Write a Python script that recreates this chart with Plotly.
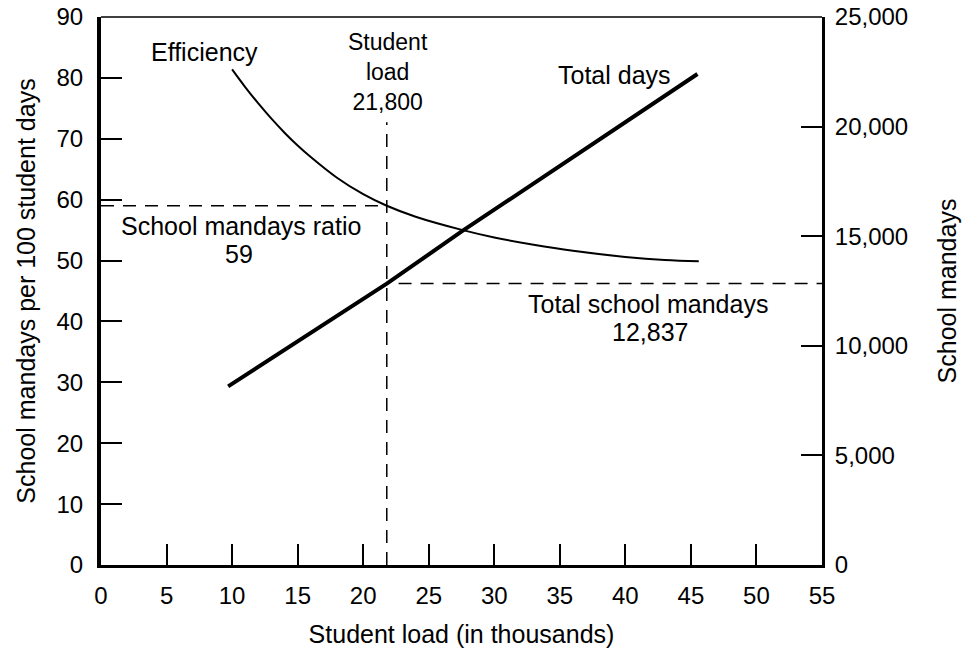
import plotly.graph_objects as go

# ---- data ----
eff_x = [10, 11, 12, 13, 14, 15, 16, 18, 20, 21.8, 24, 27.6, 30, 33, 36, 40, 43, 45.6]
eff_y = [81.4, 78.5, 75.8, 73.3, 71.0, 68.9, 67.0, 63.6, 60.9, 59.0, 57.2, 55.0, 53.8, 52.6, 51.6, 50.6, 50.1, 49.9]

total_x = [9.7, 21.8, 27.6, 45.5]
total_y = [8150, 12837, 15250, 22400]

student_load = 21.8          # thousands
mandays_ratio = 59           # per 100 student days
total_mandays = 12837
load_line_top = 72.7         # top of the vertical dashed guide (left-axis units)
mandays_line_start = 22.7    # start of right dashed guide (thousands)

x_ticks = [0, 5, 10, 15, 20, 25, 30, 35, 40, 45, 50, 55]
y_ticks = [0, 10, 20, 30, 40, 50, 60, 70, 80, 90]
y2_ticks = [0, 5000, 10000, 15000, 20000, 25000]
y2_labels = ["0", "5,000", "10,000", "15,000", "20,000", "25,000"]

FONT = "Liberation Sans, Arial, Helvetica, sans-serif"
FS = 25
TFS = 24
DASH = "13px,9px"

fig = go.Figure()

# dashed guides
fig.add_trace(go.Scatter(x=[0, student_load], y=[mandays_ratio, mandays_ratio], mode="lines",
                         line=dict(color="black", width=1.5, dash=DASH), hoverinfo="skip"))
fig.add_trace(go.Scatter(x=[student_load, student_load], y=[0, load_line_top], mode="lines",
                         line=dict(color="black", width=1.5, dash=DASH), hoverinfo="skip"))
fig.add_trace(go.Scatter(x=[mandays_line_start, 55], y=[total_mandays, total_mandays], mode="lines",
                         yaxis="y2", line=dict(color="black", width=1.5, dash=DASH), hoverinfo="skip"))

# efficiency curve
fig.add_trace(go.Scatter(x=eff_x, y=eff_y, mode="lines", line=dict(color="black", width=2, shape="spline"),
                         name="Efficiency"))
# total days line
fig.add_trace(go.Scatter(x=total_x, y=total_y, mode="lines", yaxis="y2",
                         line=dict(color="black", width=4), name="Total days"))

def ann(text, x, y, size=FS):
    fig.add_annotation(text=text, x=x, y=y, xref="x", yref="y", showarrow=False,
                       font=dict(family=FONT, size=size, color="black"))

ann("Efficiency", 7.9, 84.2)
ann("Student<br>load<br>21,800", 21.9, 80.9, 23)
ann("Total days", 39.2, 80.5)
ann("School mandays ratio", 10.65, 55.7)
ann("59", 10.56, 51.0)
ann("Total school mandays", 41.7, 42.9)
ann("12,837", 41.9, 38.3)

# top border (thin)
fig.add_shape(type="line", xref="paper", yref="paper", x0=0, x1=1, y0=1, y1=1,
              line=dict(color="black", width=1.5))

tickfont = dict(family=FONT, size=TFS, color="black")

fig.update_layout(
    width=964, height=658,
    margin=dict(l=101, r=142, t=17, b=93, autoexpand=False),
    paper_bgcolor="white", plot_bgcolor="white",
    showlegend=False,
    font=dict(family=FONT, size=FS, color="black"),
    xaxis=dict(range=[0, 55], tickvals=x_ticks, ticks="inside", ticklen=21, tickwidth=1.5,
               tickcolor="black", showline=True, linewidth=3, linecolor="black",
               showgrid=False, zeroline=False, ticklabelstandoff=7, automargin=False,
               ticklabeloverflow="allow", tickfont=tickfont,
               title=dict(text="Student load (in thousands)", standoff=18,
                          font=dict(family=FONT, size=FS))),
    yaxis=dict(range=[0, 90], tickvals=y_ticks, ticks="inside", ticklen=21, tickwidth=1.5,
               tickcolor="black", showline=True, linewidth=4, linecolor="black",
               showgrid=False, zeroline=False, ticklabelstandoff=9, automargin=False,
               ticklabeloverflow="allow", tickfont=tickfont,
               title=dict(text="School mandays per 100 student days", standoff=15,
                          font=dict(family=FONT, size=FS))),
    yaxis2=dict(range=[0, 25000], tickvals=y2_ticks, ticktext=y2_labels, overlaying="y", side="right",
                ticks="inside", ticklen=21, tickwidth=1.5, tickcolor="black",
                showline=True, linewidth=3, linecolor="black", showgrid=False, zeroline=False,
                ticklabelstandoff=5, automargin=False, ticklabeloverflow="allow", tickfont=tickfont,
                title=dict(text="School mandays", standoff=32, font=dict(family=FONT, size=FS))),
)

fig.write_html("out.html", config={"displayModeBar": False},
               post_script="document.body.style.margin='0';")
